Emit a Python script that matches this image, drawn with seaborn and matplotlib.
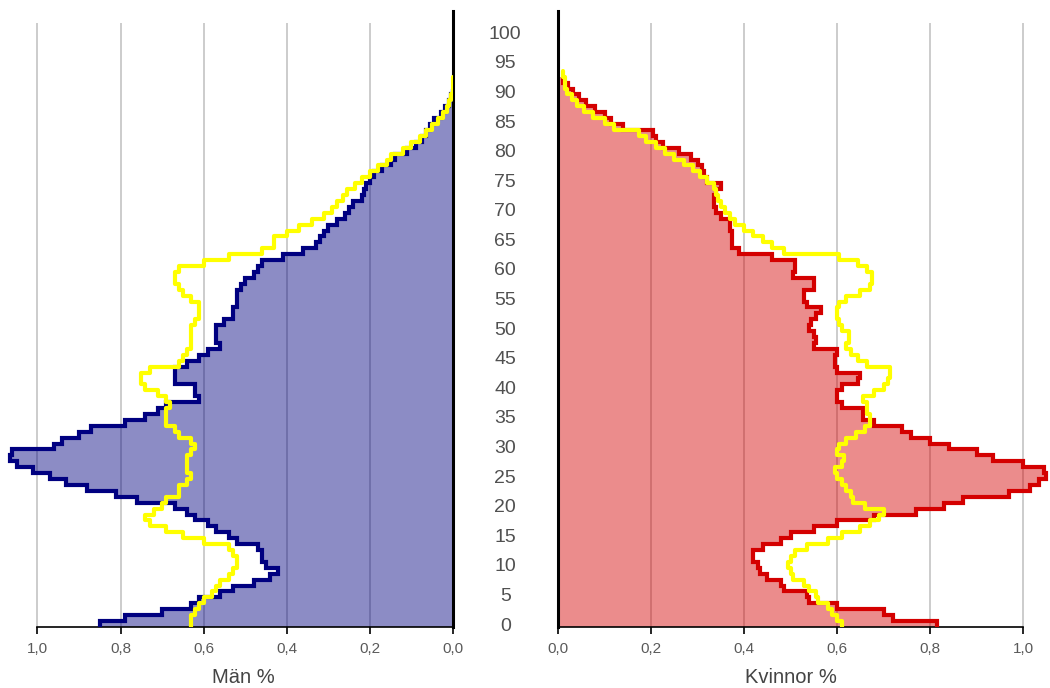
import numpy as np
import matplotlib
matplotlib.use("Agg")
import matplotlib.pyplot as plt
import seaborn as sns

# Procent av befolkningen per ettårsklass (0 = ålder 0)
men = [0.85, 0.79, 0.70, 0.63, 0.61, 0.56, 0.53, 0.48, 0.44, 0.42,
       0.45, 0.46, 0.46, 0.47, 0.52, 0.54, 0.57, 0.59, 0.62, 0.64,
       0.67, 0.76, 0.81, 0.88, 0.93, 0.97, 1.01, 1.05, 1.065, 1.06,
       0.96, 0.94, 0.90, 0.87, 0.79, 0.74, 0.71, 0.69, 0.61, 0.62,
       0.62, 0.67, 0.67, 0.67, 0.64, 0.61, 0.59, 0.56, 0.57, 0.57,
       0.57, 0.55, 0.53, 0.53, 0.52, 0.52, 0.52, 0.51, 0.50, 0.48,
       0.47, 0.46, 0.41, 0.36, 0.33, 0.32, 0.31, 0.30, 0.28, 0.26,
       0.25, 0.24, 0.22, 0.215, 0.21, 0.20, 0.19, 0.17, 0.15, 0.14,
       0.11, 0.09, 0.075, 0.065, 0.055, 0.045, 0.03, 0.02, 0.01, 0.005,
       0.0]
men_ref = [0.63, 0.63, 0.62, 0.61, 0.60, 0.58, 0.57, 0.56, 0.54, 0.53,
           0.52, 0.52, 0.53, 0.54, 0.60, 0.65, 0.69, 0.73, 0.74, 0.72,
           0.70, 0.69, 0.66, 0.66, 0.64, 0.63, 0.64, 0.64, 0.64, 0.63,
           0.62, 0.63, 0.66, 0.67, 0.69, 0.69, 0.69, 0.68, 0.69, 0.71,
           0.74, 0.75, 0.75, 0.73, 0.66, 0.65, 0.64, 0.63, 0.63, 0.63,
           0.63, 0.62, 0.61, 0.61, 0.61, 0.63, 0.65, 0.66, 0.67, 0.67,
           0.66, 0.60, 0.54, 0.46, 0.43, 0.43, 0.40, 0.37, 0.34, 0.31,
           0.29, 0.28, 0.265, 0.255, 0.235, 0.22, 0.20, 0.18, 0.16, 0.15,
           0.12, 0.10, 0.08, 0.065, 0.05, 0.035, 0.025, 0.015, 0.01, 0.005,
           0.0, 0.0, 0.0]
women = [0.815, 0.72, 0.70, 0.60, 0.54, 0.535, 0.485, 0.48, 0.45, 0.435,
         0.43, 0.42, 0.42, 0.44, 0.48, 0.50, 0.55, 0.60, 0.68, 0.77,
         0.83, 0.87, 0.97, 1.015, 1.035, 1.05, 1.045, 1.00, 0.935, 0.90,
         0.84, 0.80, 0.76, 0.74, 0.68, 0.655, 0.655, 0.61, 0.60, 0.60,
         0.61, 0.645, 0.65, 0.60, 0.595, 0.595, 0.60, 0.55, 0.555, 0.55,
         0.54, 0.545, 0.555, 0.565, 0.535, 0.53, 0.53, 0.55, 0.55, 0.505,
         0.51, 0.51, 0.46, 0.39, 0.375, 0.375, 0.375, 0.37, 0.37, 0.35,
         0.34, 0.335, 0.335, 0.34, 0.35, 0.32, 0.315, 0.31, 0.30, 0.285,
         0.26, 0.225, 0.21, 0.205, 0.14, 0.115, 0.10, 0.08, 0.06, 0.045,
         0.033, 0.022, 0.01]
women_ref = [0.61, 0.60, 0.59, 0.58, 0.56, 0.555, 0.54, 0.53, 0.505, 0.50,
             0.495, 0.50, 0.51, 0.535, 0.58, 0.61, 0.65, 0.67, 0.69, 0.70,
             0.66, 0.635, 0.63, 0.62, 0.61, 0.60, 0.595, 0.61, 0.615, 0.60,
             0.605, 0.62, 0.64, 0.66, 0.67, 0.67, 0.665, 0.665, 0.655, 0.68,
             0.70, 0.71, 0.715, 0.715, 0.665, 0.645, 0.63, 0.62, 0.625, 0.625,
             0.61, 0.605, 0.60, 0.60, 0.605, 0.62, 0.65, 0.67, 0.675, 0.675,
             0.665, 0.645, 0.605, 0.485, 0.46, 0.44, 0.42, 0.40, 0.38, 0.37,
             0.36, 0.35, 0.345, 0.34, 0.335, 0.32, 0.305, 0.29, 0.27, 0.25,
             0.23, 0.21, 0.19, 0.175, 0.12, 0.10, 0.075, 0.055, 0.04, 0.03,
             0.02, 0.015, 0.015, 0.01]

x_ticks = [0.0, 0.2, 0.4, 0.6, 0.8, 1.0]
x_ticklabels = ["0,0", "0,2", "0,4", "0,6", "0,8", "1,0"]
age_ticks = list(range(0, 101, 5))

sns.set_style("white")
plt.rcParams['font.family'] = ['Liberation Sans', 'DejaVu Sans']

fig = plt.figure(figsize=(10.5, 6.88), dpi=100)
bottom = 1 - 627 / 688
height = 616 / 688
ax_m = fig.add_axes([0, bottom, 453 / 1050, height])
ax_f = fig.add_axes([558 / 1050, bottom, 492 / 1050, height])

panels = [
    (ax_m, men, men_ref, "#000080", "Män %"),
    (ax_f, women, women_ref, "#d40000", "Kvinnor %"),
]

for ax, vals, ref, col, label in panels:
    vals = np.array(vals)
    ref = np.array(ref)
    edges = np.arange(len(vals) + 1)

    # rutnät (slutar strax under axelns topp)
    ax.vlines(x_ticks[1:], 0, 102, color="#c8c8c8", lw=1.3, zorder=1)

    ax.stairs(vals, edges, orientation="horizontal", baseline=0, fill=True,
              color=col, alpha=0.45, lw=0, zorder=2)
    ax.stairs(vals, edges, orientation="horizontal", baseline=None,
              color=col, lw=3, zorder=3)
    sns.lineplot(x=np.append(ref, ref[-1]), y=np.arange(len(ref) + 1),
                 orient="y", estimator=None, drawstyle="steps-pre",
                 color="#ffff00", lw=3, ax=ax, zorder=4)

    ax.set_ylim(0, 104.1)
    ax.set_xticks(x_ticks)
    ax.set_xticklabels(x_ticklabels)
    ax.grid(False)
    ax.tick_params(axis="x", direction="out", length=5, width=1.2,
                   color="black", labelsize=11, labelcolor="#5a5a5a", pad=6,
                   bottom=True)
    ax.spines["bottom"].set_bounds(0, 1)
    ax.spines["bottom"].set_color("black")
    ax.spines["bottom"].set_linewidth(1.2)
    ax.spines["top"].set_visible(False)
    ax.set_xlabel(label, fontsize=14.5, color="#444444")
    ax.set_ylabel("")

# vänster panel speglad
ax_m.set_xlim(1.09, 0)
ax_m.spines["left"].set_visible(False)
ax_m.spines["right"].set_color("black")
ax_m.spines["right"].set_linewidth(2.2)
ax_m.set_yticks([])
ax_m.xaxis.set_label_coords(0.537, -0.066)

ax_f.set_xlim(0, 1.058)
ax_f.spines["right"].set_visible(False)
ax_f.spines["left"].set_color("black")
ax_f.spines["left"].set_linewidth(2.2)
ax_f.set_yticks([a + 0.5 for a in age_ticks])
ax_f.set_yticklabels([str(a) for a in age_ticks])
ax_f.tick_params(axis="y", length=0, pad=38, labelsize=14,
                 labelcolor="#505050", left=True)
for t in ax_f.get_yticklabels():
    t.set_horizontalalignment("center")
ax_f.xaxis.set_label_coords(0.473, -0.066)

fig.savefig("out.png", dpi=100)
